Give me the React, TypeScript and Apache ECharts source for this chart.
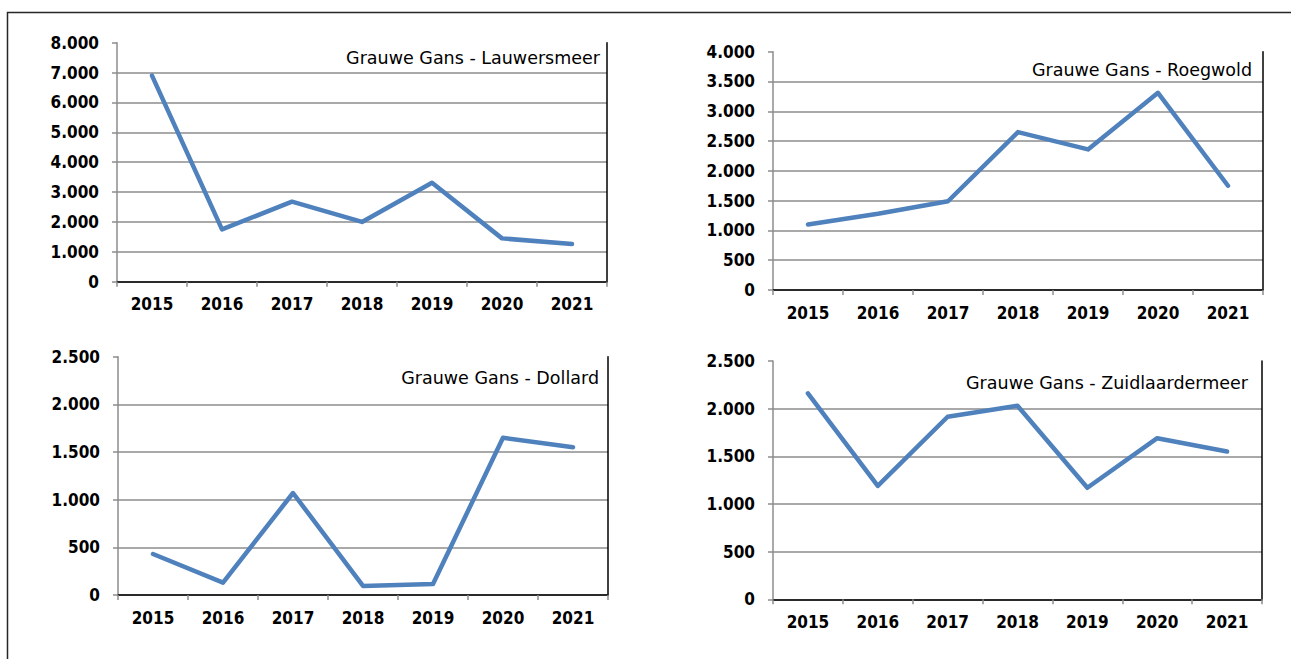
import React, { useEffect, useRef } from "react";
import * as echarts from "echarts";

const years = ["2015", "2016", "2017", "2018", "2019", "2020", "2021"];
const lauwersmeer = [6900, 1750, 2680, 2000, 3310, 1450, 1260];
const roegwold = [1100, 1280, 1490, 2650, 2360, 3310, 1750];
const dollard = [430, 130, 1070, 95, 115, 1650, 1550];
const zuidlaardermeer = [2160, 1190, 1915, 2030, 1170, 1690, 1550];

const titles = [
  "Grauwe Gans - Lauwersmeer",
  "Grauwe Gans - Roegwold",
  "Grauwe Gans - Dollard",
  "Grauwe Gans - Zuidlaardermeer",
];
const seriesData = [lauwersmeer, roegwold, dollard, zuidlaardermeer];
const axisMax = [8000, 4000, 2500, 2500];
const axisStep = [1000, 500, 500, 500];

const grids = [
  { left: 117, top: 42.7, width: 490, height: 239 },
  { left: 773, top: 51.7, width: 490, height: 238.3 },
  { left: 118, top: 356.7, width: 490, height: 238.3 },
  { left: 773, top: 361, width: 489, height: 238.3 },
];
const titlePos = [
  { x: 600, y: 57.5 },
  { x: 1252, y: 70 },
  { x: 599, y: 377.5 },
  { x: 1248, y: 383 },
];

const fmt = (v: number) => String(v).replace(/\B(?=(\d{3})+(?!\d))/g, ".");

const LABEL_FONT = "'DejaVu Sans Condensed', 'DejaVu Sans', sans-serif";
const GRAY = "#8c8c8c";

export default function App() {
  const ref = useRef<HTMLDivElement>(null);
  useEffect(() => {
    if (!ref.current) return;
    const chart = echarts.init(ref.current, undefined, { renderer: "svg" });
    const xAxis: any[] = [];
    const yAxis: any[] = [];
    const series: any[] = [];
    const graphic: any[] = [
      {
        type: "rect",
        shape: { x: 7.5, y: 12.5, width: 1400, height: 800 },
        style: { fill: "none", stroke: "#262626", lineWidth: 1.5 },
        z: 100,
      },
    ];
    grids.forEach((g, i) => {
      xAxis.push({
        type: "category",
        gridIndex: i,
        data: years,
        boundaryGap: true,
        axisLine: { show: true, lineStyle: { color: GRAY, width: 1.5 } },
        axisTick: { show: true, length: 5, lineStyle: { color: GRAY, width: 1.5 } },
        axisLabel: {
          color: "#000",
          fontFamily: LABEL_FONT,
          fontWeight: "bold",
          fontSize: 17,
          margin: 14,
          interval: 0,
        },
        splitLine: { show: false },
      });
      xAxis.push({
        type: "category",
        gridIndex: i,
        position: "top",
        data: years,
        axisLine: { show: true, lineStyle: { color: "#000", width: 1.5 } },
        axisTick: { show: false },
        axisLabel: { show: false },
        splitLine: { show: false },
      });
      yAxis.push({
        type: "value",
        gridIndex: i,
        min: 0,
        max: axisMax[i],
        interval: axisStep[i],
        axisLine: { show: true, lineStyle: { color: GRAY, width: 1.5 } },
        axisTick: { show: true, length: 5, lineStyle: { color: GRAY, width: 1.5 } },
        axisLabel: {
          color: "#000",
          fontFamily: LABEL_FONT,
          fontWeight: "bold",
          fontSize: 17,
          margin: 18,
          formatter: (v: number) => fmt(v),
        },
        splitLine: {
          show: true,
          showMinLine: false,
          showMaxLine: false,
          lineStyle: { color: GRAY, width: 1.5 },
        },
      });
      yAxis.push({
        type: "value",
        gridIndex: i,
        position: "right",
        min: 0,
        max: axisMax[i],
        interval: axisStep[i],
        axisLine: { show: true, lineStyle: { color: "#000", width: 1.5 } },
        axisTick: { show: false },
        axisLabel: { show: false },
        splitLine: { show: false },
      });
      series.push({
        type: "line",
        name: titles[i],
        xAxisIndex: i * 2,
        yAxisIndex: i * 2,
        data: seriesData[i],
        showSymbol: false,
        symbol: "none",
        lineStyle: { color: "#4F81BD", width: 4.5, cap: "round", join: "round" },
        z: 5,
      });
      graphic.push({
        type: "text",
        x: titlePos[i].x,
        y: titlePos[i].y,
        style: {
          text: titles[i],
          align: "right",
          verticalAlign: "middle",
          fill: "#000",
          font: "17.5px 'DejaVu Sans', sans-serif",
        },
        z: 50,
      });
    });

    chart.setOption({
      animation: false,
      backgroundColor: "#fff",
      grid: grids.map((g) => ({ ...g, containLabel: false })),
      xAxis,
      yAxis,
      series,
      graphic,
    });
    return () => chart.dispose();
  }, []);
  return (
    <div
      ref={ref}
      style={{ position: "absolute", left: 0, top: 0, width: 1291, height: 659 }}
    />
  );
}
